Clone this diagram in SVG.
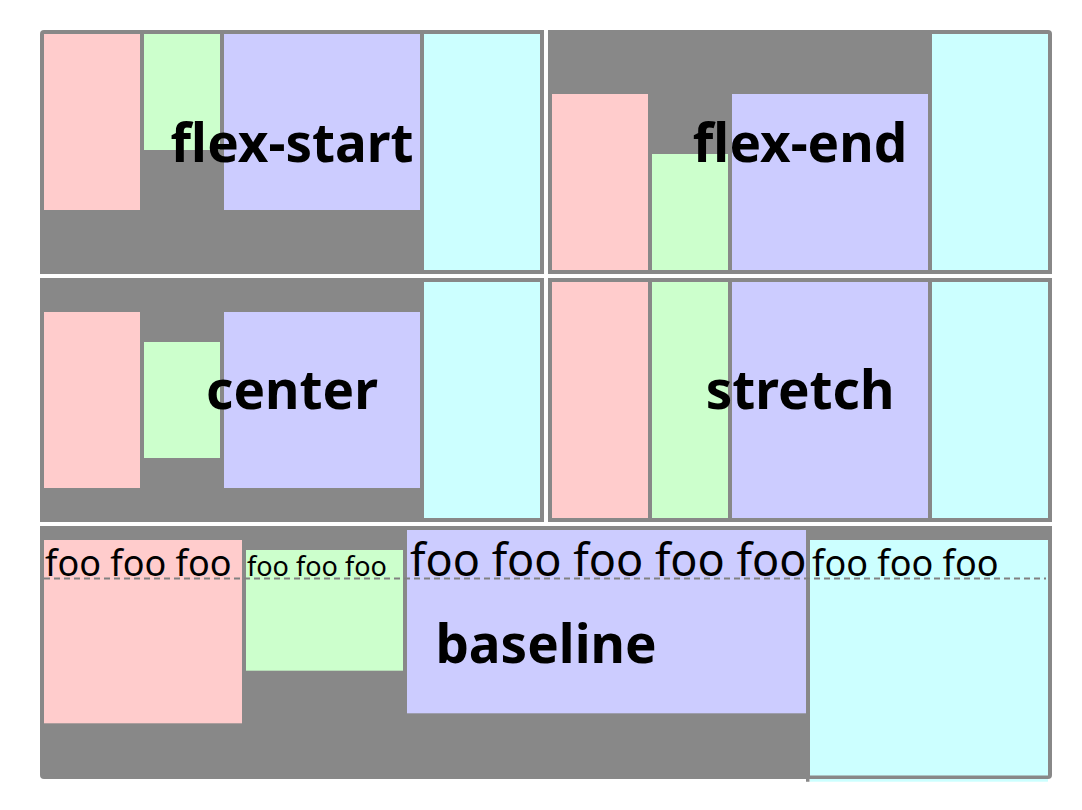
<svg xmlns="http://www.w3.org/2000/svg" width="1082" height="810" viewBox="0 0 1082 810">
<style>
.panel{fill:#888}
.p{fill:#fcc}
.g{fill:#cfc}
.b{fill:#ccf}
.c{fill:#cff}
.label{font-family:"Noto Sans","Open Sans","DejaVu Sans",sans-serif;font-weight:bold;font-size:53px;fill:#000;text-anchor:middle}
.foo{font-family:"Noto Sans","Open Sans","DejaVu Sans",sans-serif;fill:#000}
.base{fill:none;stroke:#808080;stroke-width:2;stroke-dasharray:6 4}
</style>
<rect width="1082" height="810" fill="#fff"/>

<g id="flex-start">
<path class="panel" d="M40,34 a4,4 0 0 1 4,-4 H544 V274 H40 Z"/>
<rect class="p" x="44" y="34" width="96" height="176"/>
<rect class="g" x="144" y="34" width="76" height="116"/>
<rect class="b" x="224" y="34" width="196" height="176"/>
<rect class="c" x="424" y="34" width="116" height="236"/>
<text class="label" x="292" y="161.5">flex-start</text>
</g>

<g id="flex-end">
<path class="panel" d="M548,30 H1048 a4,4 0 0 1 4,4 V274 H548 Z"/>
<rect class="p" x="552" y="94" width="96" height="176"/>
<rect class="g" x="652" y="154" width="76" height="116"/>
<rect class="b" x="732" y="94" width="196" height="176"/>
<rect class="c" x="932" y="34" width="116" height="236"/>
<text class="label" x="800" y="161.5">flex-end</text>
</g>

<g id="center">
<rect class="panel" x="40" y="278" width="504" height="244"/>
<rect class="p" x="44" y="312" width="96" height="176"/>
<rect class="g" x="144" y="342" width="76" height="116"/>
<rect class="b" x="224" y="312" width="196" height="176"/>
<rect class="c" x="424" y="282" width="116" height="236"/>
<text class="label" x="292" y="409">center</text>
</g>

<g id="stretch">
<rect class="panel" x="548" y="278" width="504" height="244"/>
<rect class="p" x="552" y="282" width="96" height="236"/>
<rect class="g" x="652" y="282" width="76" height="236"/>
<rect class="b" x="732" y="282" width="196" height="236"/>
<rect class="c" x="932" y="282" width="116" height="236"/>
<text class="label" x="800" y="409">stretch</text>
</g>

<g id="baseline">
<path class="panel" d="M40,526 H1052 V775 a4,4 0 0 1 -4,4 H44 a4,4 0 0 1 -4,-4 Z"/>
<rect class="p" x="44" y="540" width="198" height="183.3"/>
<rect class="g" x="246" y="550" width="157" height="120.7"/>
<rect class="b" x="407" y="530" width="399" height="183.3"/>
<rect class="c" x="810" y="540" width="238" height="241.7"/>
<path class="panel" d="M806,775.5 H1048 V779 H809.5 V781.7 H806 Z"/>
<line class="base" x1="44" y1="578.5" x2="1046" y2="578.5"/>
<text class="foo" x="45" y="576" font-size="36">foo foo foo</text>
<text class="foo" x="247" y="576" font-size="27">foo foo foo</text>
<text class="foo" x="410" y="576" font-size="45">foo foo foo foo foo</text>
<text class="foo" x="812" y="576" font-size="36">foo foo foo</text>
<text class="label" x="546" y="663">baseline</text>
</g>
</svg>
